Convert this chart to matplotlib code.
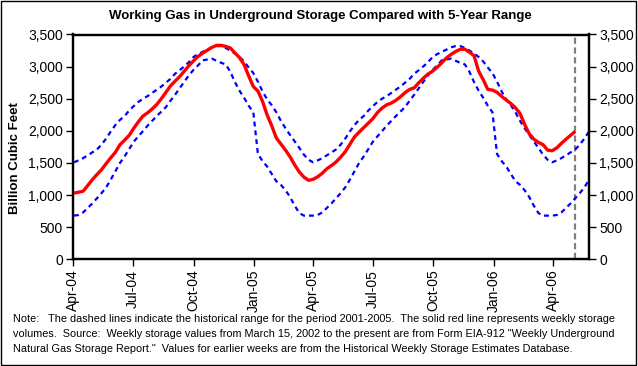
import matplotlib
matplotlib.use("Agg")
import matplotlib.pyplot as plt
import matplotlib.patches as mpatches
from matplotlib.ticker import FuncFormatter, MultipleLocator
import pandas as pd

plt.rcParams['font.family'] = ['Liberation Sans', 'DejaVu Sans']

# ---- data (Bcf), weekly, starting 2004-04-02 ----
storage_start = "2004-04-02"
storage_bcf = [
    1030, 1045, 1060, 1150, 1240, 1320, 1395, 1490, 1580, 1665,
    1783, 1855, 1930, 2040, 2140, 2230, 2280, 2340, 2410, 2500,
    2600, 2700, 2775, 2845, 2930, 3015, 3090, 3160, 3210, 3255,
    3300, 3330, 3330, 3315, 3290, 3214, 3140, 3030, 2855, 2690,
    2620, 2460, 2250, 2080, 1890, 1795, 1700, 1595, 1470, 1360,
    1280, 1230, 1245, 1285, 1340, 1410, 1460, 1515, 1590, 1675,
    1790, 1905, 1980, 2050, 2120, 2190, 2285, 2355, 2405, 2432,
    2475, 2530, 2595, 2645, 2670, 2750, 2820, 2885, 2930, 2990,
    3060, 3135, 3190, 3235, 3270, 3270, 3225, 3170, 2930, 2795,
    2645, 2635, 2600, 2537, 2480, 2425, 2360, 2270, 2100, 1955,
    1870, 1820, 1785, 1700, 1690, 1735, 1805, 1870, 1930, 1991,
]

range_start = "2004-04-02"
range_max = [
    1510, 1540, 1575, 1620, 1665, 1710, 1785, 1880, 1990, 2090,
    2170, 2230, 2315, 2385, 2450, 2500, 2540, 2590, 2640, 2690,
    2750, 2810, 2890, 2945, 3005, 3070, 3150, 3195, 3230, 3265,
    3300, 3320, 3320, 3290, 3250, 3205, 3150, 3080, 2985, 2900,
    2765, 2615, 2490, 2400, 2290, 2155, 2040, 1935, 1835, 1735,
    1630, 1550,
    1510, 1540, 1575, 1620, 1665, 1710, 1785, 1880, 1990, 2090,
    2170, 2230, 2315, 2385, 2450, 2500, 2540, 2590, 2640, 2690,
    2750, 2810, 2890, 2945, 3005, 3070, 3150, 3195, 3230, 3265,
    3300, 3320, 3320, 3290, 3250, 3205, 3150, 3080, 2985, 2900,
    2765, 2615, 2490, 2400, 2290, 2155, 2040, 1935, 1835, 1735,
    1630, 1550,
    1510, 1540, 1575, 1620, 1665, 1710, 1785, 1880, 1990,
]
range_min = [
    680, 690, 730, 800, 870, 950, 1030, 1120, 1240, 1370,
    1500, 1600, 1715, 1830, 1915, 1995, 2080, 2155, 2230, 2300,
    2370, 2470, 2563, 2665, 2765, 2865, 2950, 3020, 3098, 3110,
    3125, 3090, 3060, 3035, 2920, 2760, 2625, 2515, 2390, 2290,
    1640, 1530, 1445, 1330, 1215, 1159, 1075, 970, 835, 720,
    680, 680,
    680, 690, 730, 800, 870, 950, 1030, 1120, 1240, 1370,
    1500, 1600, 1715, 1830, 1915, 1995, 2080, 2155, 2230, 2300,
    2370, 2470, 2563, 2665, 2765, 2865, 2950, 3020, 3098, 3110,
    3125, 3090, 3060, 3035, 2920, 2760, 2625, 2515, 2390, 2290,
    1640, 1530, 1445, 1330, 1215, 1159, 1075, 970, 835, 720,
    680, 680,
    680, 690, 730, 800, 870, 950, 1030, 1120, 1240,
]

latest_week = "2006-05-05"
x_start, x_end = "2004-04-01", "2006-05-26"
tick_months = ["2004-04-01", "2004-07-01", "2004-10-01", "2005-01-01", "2005-04-01",
               "2005-07-01", "2005-10-01", "2006-01-01", "2006-04-01"]
tick_labels = ["Apr-04", "Jul-04", "Oct-04", "Jan-05", "Apr-05",
               "Jul-05", "Oct-05", "Jan-06", "Apr-06"]

title = "Working Gas in Underground Storage Compared with 5-Year Range"
ylabel = "Billion Cubic Feet"
note_lines = [
    "Note:   The dashed lines indicate the historical range for the period 2001-2005.  The solid red line represents weekly storage",
    "volumes.  Source:  Weekly storage values from March 15, 2002 to the present are from Form EIA-912 \"Weekly Underground",
    "Natural Gas Storage Report.\"  Values for earlier weeks are from the Historical Weekly Storage Estimates Database.",
]

# ---- figure ----
W, H = 638, 366
fig = plt.figure(figsize=(W / 100, H / 100), dpi=100)
fig.patch.set_facecolor("white")

L, R, T, B = 73.3, 589, 34.5, 259.3
ax = fig.add_axes([L / W, 1 - B / H, (R - L) / W, (B - T) / H])

d_storage = pd.date_range(storage_start, periods=len(storage_bcf), freq="7D")
d_range = pd.date_range(range_start, periods=len(range_max), freq="7D")

ax.plot(d_range, range_max, color="#0000FF", lw=1.6, dashes=(2.2, 1.8), zorder=2)
ax.plot(d_range, range_min, color="#0000FF", lw=1.6, dashes=(2.2, 1.8), zorder=2)
ax.plot(d_storage, storage_bcf, color="#FF0000", lw=2.4, zorder=3,
        solid_joinstyle="round", solid_capstyle="butt")
ax.axvline(pd.Timestamp(latest_week), color="#808080", lw=1.6, dashes=(2.8, 1.6), zorder=1)

ax.set_xlim(pd.Timestamp(x_start), pd.Timestamp(x_end))
ax.set_ylim(0, 3500)
ax.yaxis.set_major_locator(MultipleLocator(500))
fmt = FuncFormatter(lambda v, p: f"{int(v):,}")
ax.yaxis.set_major_formatter(fmt)
ax.set_xticks([pd.Timestamp(t) for t in tick_months])
ax.set_xticklabels(tick_labels, rotation=90, fontsize=10)

for s in ax.spines.values():
    s.set_linewidth(1.6)
    s.set_color("black")
ax.tick_params(axis="both", direction="out", length=5, width=1, labelsize=10, pad=2.5)

ax2 = ax.twinx()
ax2.set_ylim(0, 3500)
ax2.yaxis.set_major_locator(MultipleLocator(500))
ax2.yaxis.set_major_formatter(fmt)
ax2.tick_params(axis="y", direction="out", length=5, width=1, labelsize=10, pad=2.5)
for s in ax2.spines.values():
    s.set_linewidth(1.6)

fig.text(320 / W, 1 - 16 / H, title, ha="center", va="center", fontsize=9.5, fontweight="bold")
fig.text(15 / W, 1 - 158 / H, ylabel, ha="center", va="center", rotation=90,
         fontsize=9.5, fontweight="bold")
for i, line in enumerate(note_lines):
    fig.text(13 / W, 1 - (319 + 15 * i) / H, line, ha="left", va="center", fontsize=7.8)

fig.patches.append(mpatches.Rectangle((0.5 / W, 1 - 364.5 / H), 635 / W, 364 / H,
                                      transform=fig.transFigure, fill=False,
                                      edgecolor="black", lw=1))

fig.savefig("out.png", dpi=100, facecolor="white")
